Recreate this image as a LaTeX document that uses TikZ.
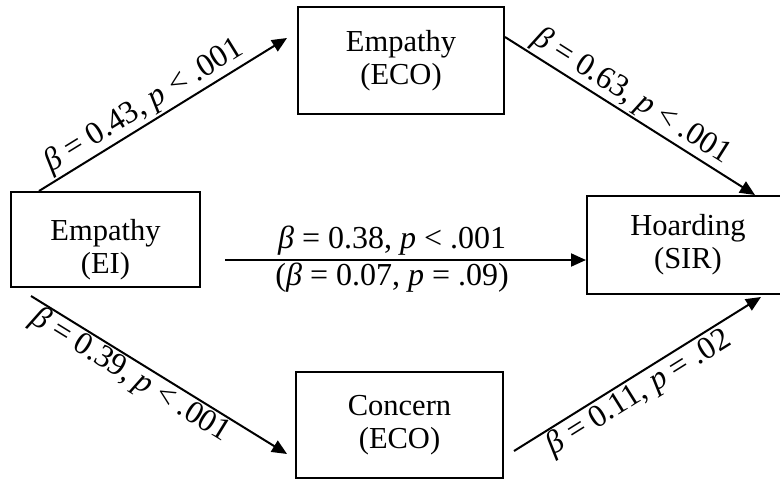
\documentclass[tikz,border=0pt]{standalone}
\usepackage{fontspec}
\setmainfont{Liberation Serif}
\usetikzlibrary{arrows.meta,calc}

\begin{document}
\begin{tikzpicture}[x=1pt,y=-1pt]
\tikzstyle{rect}=[rectangle, draw=black, line width=2pt, inner sep=0pt, align=center, font=\fontsize{30.5}{33}\selectfont]
\tikzstyle{connect}=[-{Triangle[length=15pt,width=13pt]}, line width=2pt]
\tikzstyle{coef}=[font=\fontsize{32}{35}\selectfont, inner sep=1.5pt]

  \useasboundingbox (0,0) rectangle (780,483);

  \node[rect, minimum width=189pt, minimum height=95pt]  (EI)  at (105.5,239.5) {\rule{0pt}{42pt}Empathy\\(EI)};
  \node[rect, minimum width=206pt, minimum height=107pt] (ECO) at (401,60.5)    {Empathy\\(ECO)};
  \node[rect, minimum width=207pt, minimum height=106pt] (CON) at (399.5,425)   {Concern\\(ECO)};
  \node[rect, minimum width=202pt, minimum height=98pt]  (SIR) at (688,245)     {Hoarding\\(SIR)};

  % arrow ends
  \coordinate (EIup)    at ($(EI.north west)+(29,0)$);
  \coordinate (EIdown)  at ($(EI.south west)+(21,8)$);
  \coordinate (EIright) at ($(EI.east)+(24,20.5)$);
  \coordinate (ECOin)   at ($(ECO.west)+(-10,-22.5)$);
  \coordinate (ECOout)  at ($(ECO.north east)+(0,31)$);
  \coordinate (CONin)   at ($(CON.west)+(-8,29)$);
  \coordinate (CONout)  at ($(CON.east)+(10,26)$);
  \coordinate (SIRtop)  at ($(SIR.north west)+(169,0)$);
  \coordinate (SIRbot)  at ($(SIR.south west)+(175,2)$);
  \coordinate (SIRin)   at ($(SIR.west)+(0,15)$);

  \path (EIup) edge [connect] node [coef, sloped, above, pos=0.46] {\textit{β} = 0.43, \textit{p} < .001} (ECOin);
  \path (ECOout) edge [connect] node [coef, sloped, above, pos=0.47] {\textit{β} = 0.63, \textit{p} < .001} (SIRtop);
  \path (EIright) edge [connect] node [coef, above, inner sep=3.5pt, pos=0.463] {\textit{β} = 0.38, \textit{p} < .001}
                                 node [coef, below, pos=0.463] {(\textit{β} = 0.07, \textit{p} = .09)} (SIRin);
  \path (EIdown) edge [connect] node [coef, sloped, below, inner sep=0pt, pos=0.42] {\textit{β} = 0.39, \textit{p} < .001} (CONin);
  \path (CONout) edge [connect] node [coef, sloped, below, pos=0.47] {\textit{β} = 0.11, \textit{p} = .02} (SIRbot);

\end{tikzpicture}
\end{document}
